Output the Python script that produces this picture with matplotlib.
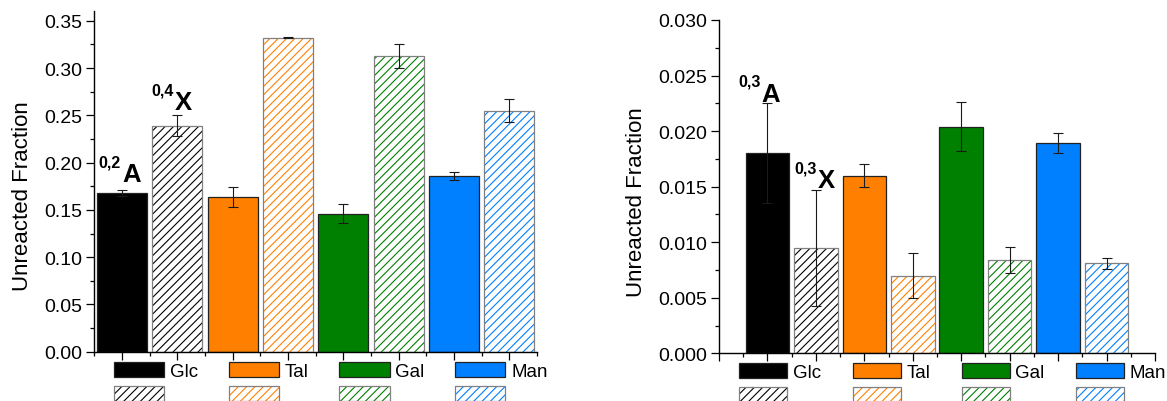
import matplotlib
matplotlib.use("Agg")
import matplotlib.pyplot as plt
from matplotlib.patches import Patch
from matplotlib.legend_handler import HandlerTuple
from matplotlib.ticker import MultipleLocator, FormatStrFormatter

plt.rcParams['font.family'] = ['Liberation Sans', 'DejaVu Sans']
plt.rcParams['hatch.linewidth'] = 0.8

# ---- data ----
sugars = ['Glc', 'Tal', 'Gal', 'Man']
colors = ['#000000', '#FF8000', '#008000', '#0080FF']

# left panel: 0,2A (solid bars) and 0,4X (hatched bars)
left_solid = [0.168, 0.164, 0.146, 0.186]
left_solid_err = [0.003, 0.0105, 0.010, 0.0043]
left_hatch = [0.239, 0.332, 0.313, 0.255]
left_hatch_err = [0.011, 0.0005, 0.0127, 0.0118]

# right panel: 0,3A (solid bars) and 0,3X (hatched bars)
right_solid = [0.0180, 0.0160, 0.0204, 0.0189]
right_solid_err = [0.0045, 0.0010, 0.0022, 0.0009]
right_hatch = [0.0095, 0.0070, 0.0084, 0.0081]
right_hatch_err = [0.0052, 0.0020, 0.0012, 0.0005]

ylabel = 'Unreacted Fraction'

BAR_W = 0.9
HATCH = '////'
SOLID_EDGE = '#222222'
HATCH_EDGE = '#808080'
ERR_COLOR = '#1a1a1a'
LEG_FS = 13.5


def draw_bars(ax, solid, solid_err, hatch, hatch_err):
    xs = [2 * i for i in range(len(solid))]
    xh = [2 * i + 1 for i in range(len(hatch))]
    ax.bar(xs, solid, width=BAR_W, color=colors, edgecolor=SOLID_EDGE,
           linewidth=0.9, zorder=2)
    # hatched bars: coloured hatch on white, grey outline on top
    ax.bar(xh, hatch, width=BAR_W, facecolor='white', edgecolor=colors,
           hatch=HATCH, linewidth=0, zorder=2)
    ax.bar(xh, hatch, width=BAR_W, facecolor='none', edgecolor=HATCH_EDGE,
           linewidth=0.9, zorder=3)
    ax.errorbar(xs, solid, yerr=solid_err, fmt='none', ecolor=ERR_COLOR,
                elinewidth=0.8, capsize=3.3, capthick=0.8, zorder=5)
    ax.errorbar(xh, hatch, yerr=hatch_err, fmt='none', ecolor=ERR_COLOR,
                elinewidth=0.8, capsize=3.3, capthick=0.8, zorder=5)


def ion_label(ax, x, y, sup, main, dx, dy):
    ax.annotate(main, xy=(x, y), xytext=(dx, dy), textcoords='offset pixels',
                ha='left', va='baseline', fontsize=18.5, fontweight='bold')
    ax.annotate(sup, xy=(x, y), xytext=(dx - 1, dy + 15),
                textcoords='offset pixels', ha='right', va='baseline',
                fontsize=11.5, fontweight='bold')


def style_axes(ax, xlim, ylim, ymajor, yminor, fmt):
    ax.set_xlim(*xlim)
    ax.set_ylim(*ylim)
    for s in ('top', 'right'):
        ax.spines[s].set_visible(False)
    for s in ('left', 'bottom'):
        ax.spines[s].set_linewidth(1.0)
    ax.xaxis.set_major_locator(MultipleLocator(1))
    ax.xaxis.set_minor_locator(MultipleLocator(0.5))
    ax.yaxis.set_major_locator(MultipleLocator(ymajor))
    ax.yaxis.set_minor_locator(MultipleLocator(yminor))
    ax.yaxis.set_major_formatter(FormatStrFormatter(fmt))
    ax.tick_params(which='major', direction='out', length=5.5, width=0.9,
                   labelsize=14, pad=3)
    ax.tick_params(which='minor', direction='out', length=2.8, width=0.9)
    ax.tick_params(axis='x', which='both', labelbottom=False)
    ax.set_ylabel(ylabel, fontsize=16)
    ax.yaxis.label.set_va('center')


def add_legend(fig, x, y, handle_len, col_space):
    handles, labels = [], []
    for name, c in zip(sugars, colors):
        handles.append(Patch(facecolor=c, edgecolor=SOLID_EDGE, linewidth=0.9))
        labels.append(name)
        hp = Patch(facecolor='white', edgecolor=c, hatch=HATCH, linewidth=0)
        op = Patch(facecolor='none', edgecolor=HATCH_EDGE, linewidth=0.9)
        handles.append((hp, op))
        labels.append('')
    fig.legend(handles, labels, ncol=4, loc='upper left',
               bbox_to_anchor=(x, y), bbox_transform=fig.transFigure,
               frameon=False, fontsize=LEG_FS, borderpad=0, borderaxespad=0,
               handlelength=handle_len, handleheight=0.9, handletextpad=0.3,
               columnspacing=col_space, labelspacing=0.32,
               handler_map={tuple: HandlerTuple(ndivide=1, pad=0)})


fig = plt.figure(figsize=(11.67, 4.02), dpi=100)

ax1 = fig.add_axes([0.0808, 0.1226, 0.3793, 0.8468])
draw_bars(ax1, left_solid, left_solid_err, left_hatch, left_hatch_err)
style_axes(ax1, (-0.5, 7.5), (0, 0.36), 0.05, 0.025, '%.2f')
ax1.yaxis.set_label_coords(-0.162, 0.459)
ion_label(ax1, 0, left_solid[0] + left_solid_err[0], '0,2', 'A', 0, 9)
ion_label(ax1, 1, left_hatch[0] + left_hatch_err[0], '0,4', 'X', -2.5, 6)

ax2 = fig.add_axes([0.6161, 0.1187, 0.3736, 0.8291])
draw_bars(ax2, right_solid, right_solid_err, right_hatch, right_hatch_err)
style_axes(ax2, (-1, 8), (0, 0.030), 0.005, 0.0025, '%.3f')
ax2.yaxis.set_label_coords(-0.190, 0.457)
ion_label(ax2, 0, right_solid[0] + right_solid_err[0], '0,3', 'A', -6, 2.6)
ion_label(ax2, 1, right_hatch[0] + right_hatch_err[0], '0,3', 'X', 2, 2.7)

add_legend(fig, 0.0979, 0.098, 2.67, 1.65)
add_legend(fig, 0.6335, 0.095, 2.56, 1.68)

fig.savefig('out.png', dpi=100)
